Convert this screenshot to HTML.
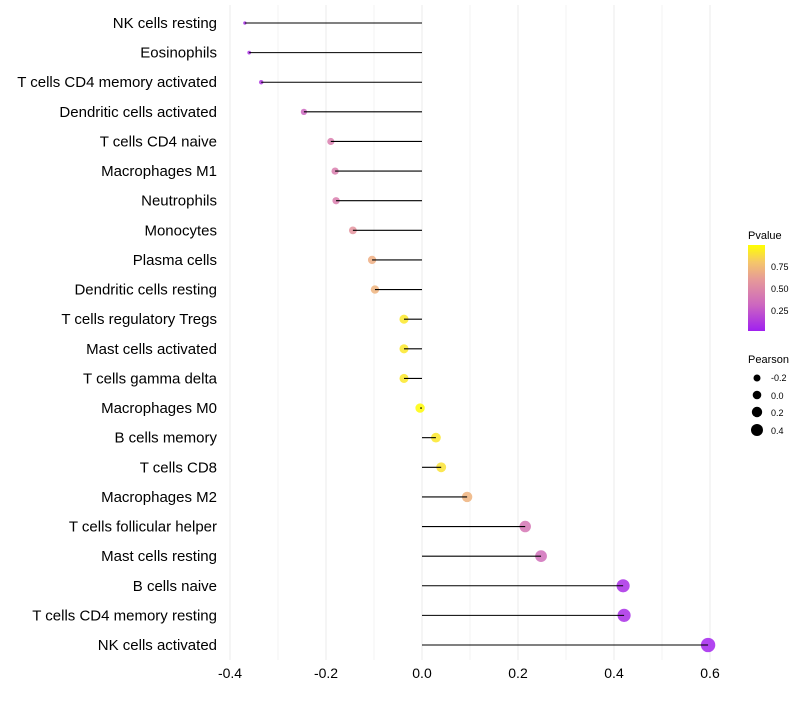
<!DOCTYPE html>
<html><head><meta charset="utf-8"><style>
body{margin:0;background:#fff;font-family:"Liberation Sans",sans-serif}
</style></head><body>
<svg id="c" width="800" height="700" xmlns="http://www.w3.org/2000/svg">
<defs><linearGradient id="g" x1="0" y1="1" x2="0" y2="0">
<stop offset="0" stop-color="#a020f0"/><stop offset="0.3" stop-color="#cc66c0"/><stop offset="0.6" stop-color="#e69a98"/><stop offset="0.8" stop-color="#f5c66a"/><stop offset="1" stop-color="#ffff00"/></linearGradient></defs>
<g id="grid"></g><g id="marks"></g><g id="stems"></g><g id="labels"></g>
<g font-size="10">
<text x="748" y="239" font-size="11">Pvalue</text>
<rect x="748" y="245" width="17" height="86" fill="url(#g)"/>
<text x="771" y="270" font-size="9">0.75</text><text x="771" y="292" font-size="9">0.50</text><text x="771" y="314" font-size="9">0.25</text>
</g>
<g font-size="9">
<text x="748" y="363" font-size="11">Pearson</text>
<circle cx="757" cy="378" r="3.5"/><text x="771" y="381">-0.2</text>
<circle cx="757" cy="395" r="4.3"/><text x="771" y="399">0.0</text>
<circle cx="757" cy="412" r="5.2"/><text x="771" y="416">0.2</text>
<circle cx="757" cy="430" r="6"/><text x="771" y="434">0.4</text>
</g>
</svg>
<script>
const categories=["NK cells resting","Eosinophils","T cells CD4 memory activated","Dendritic cells activated","T cells CD4 naive","Macrophages M1","Neutrophils","Monocytes","Plasma cells","Dendritic cells resting","T cells regulatory  Tregs","Mast cells activated","T cells gamma delta","Macrophages M0","B cells memory","T cells CD8","Macrophages M2","T cells follicular helper","Mast cells resting","B cells naive","T cells CD4 memory resting","NK cells activated"];
const pearson=[-0.369,-0.36,-0.335,-0.246,-0.19,-0.181,-0.179,-0.144,-0.104,-0.098,-0.0375,-0.0375,-0.0375,-0.004,0.029,0.04,0.094,0.215,0.248,0.419,0.421,0.596];
const pvalue=[0.05,0.07,0.1,0.3,0.45,0.45,0.45,0.58,0.7,0.72,0.92,0.92,0.92,0.99,0.92,0.9,0.72,0.4,0.35,0.06,0.06,0.02];
const xTicks=[-0.4,-0.2,0,0.2,0.4,0.6];
const NS="http://www.w3.org/2000/svg";
const x=v=>422+v*480, y=i=>23+i*(622/21);
function mk(t,a,p){const e=document.createElementNS(NS,t);for(const k in a)e.setAttribute(k,a[k]);p.appendChild(e);return e;}
const stops=[[0,[160,32,240]],[0.3,[204,102,192]],[0.6,[230,150,155]],[0.8,[245,198,106]],[1,[255,255,0]]];
function col(p){for(let i=1;i<stops.length;i++){if(p<=stops[i][0]){const [a,ca]=stops[i-1],[b,cb]=stops[i];const t=(p-a)/(b-a);return `rgb(${ca.map((c,j)=>Math.round(c+(cb[j]-c)*t)).join(',')})`;}}return 'rgb(255,255,0)';}
const G=document.getElementById('grid'),M=document.getElementById('marks'),S=document.getElementById('stems'),L=document.getElementById('labels');
for(let k=-4;k<=6;k++){const v=k/10;const g=mk('line',{x1:x(v),x2:x(v),y1:5,y2:660,stroke:'#ebebeb','stroke-width':k%2===0?1:0.6},G);

}
xTicks.forEach(v=>{const t=mk('text',{x:x(v),y:678,'text-anchor':'middle','font-size':14,fill:'#000'},L);t.textContent=v===0?'0.0':v.toFixed(1);

});
categories.forEach((c,i)=>{
const t=mk('text',{x:217,y:y(i)+5,'text-anchor':'end','font-size':15,fill:'#000'},L);t.textContent=c;


const r=0.5+6.7*Math.sqrt(Math.max(pearson[i]+0.4,0.03));
const d=mk('circle',{cx:x(pearson[i]),cy:y(i),r:r,fill:col(pvalue[i]),'fill-opacity':0.85},M);


const l=mk('line',{x1:x(0),x2:x(pearson[i]),y1:y(i),y2:y(i),stroke:'#000','stroke-width':1.1},S);


});
</script>
</body></html>
